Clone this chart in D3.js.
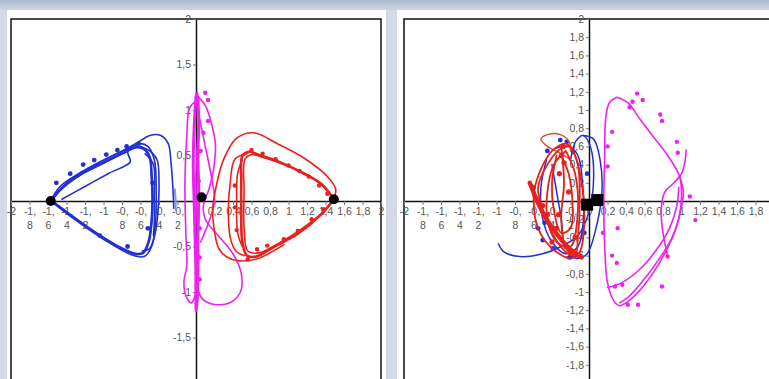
<!DOCTYPE html>
<html>
<head>
<meta charset="utf-8">
<script src="https://cdn.jsdelivr.net/npm/d3@7"></script>
<style>
  html, body { margin: 0; padding: 0; background: #d3d9e5; }
  svg { display: block; }
  .tick text { font-family: "Liberation Sans", Arial, sans-serif; font-size: 10.5px; fill: #555; }
</style>
</head>
<body>
<script>
// ---- axis ticks ----
const xTickValues = [-2,-1.8,-1.6,-1.4,-1.2,-1,-0.8,-0.6,-0.4,-0.2,0,0.2,0.4,0.6,0.8,1,1.2,1.4,1.6,1.8,2];
const xTickLabels = ["-2","-1,8","-1,6","-1,4","-1,2","-1","-0,8","-0,6","-0,4","-0,2","0","0,2","0,4","0,6","0,8","1","1,2","1,4","1,6","1,8","2"];
const leftYTickValues = [-2,-1.5,-1,-0.5,0.5,1,1.5,2];
const leftYTickLabels = ["-2","-1,5","-1","-0,5","0,5","1","1,5","2"];
const rightYTickValues = [-2,-1.8,-1.6,-1.4,-1.2,-1,-0.8,-0.6,-0.4,-0.2,0.2,0.4,0.6,0.8,1,1.2,1.4,1.6,1.8,2];
const rightYTickLabels = ["-2","-1,8","-1,6","-1,4","-1,2","-1","-0,8","-0,6","-0,4","-0,2","0,2","0,4","0,6","0,8","1","1,2","1,4","1,6","1,8","2"];

// ---- left panel trajectories ----
const leftBlueTraces = [
  [[-1.57,0],[-1.45,0.14],[-1.25,0.29],[-1.0,0.42],[-0.8,0.52],[-0.64,0.59],[-0.56,0.57],[-0.5,0.48],[-0.48,0.28],[-0.47,0.03],[-0.48,-0.22],[-0.51,-0.44],[-0.57,-0.57],[-0.66,-0.58],[-0.86,-0.49],[-1.1,-0.34],[-1.35,-0.16],[-1.52,-0.03],[-1.57,0]],
  [[-1.57,0],[-1.47,0.16],[-1.22,0.33],[-0.96,0.47],[-0.72,0.58],[-0.6,0.63],[-0.52,0.6],[-0.45,0.45],[-0.43,0.1],[-0.44,-0.26],[-0.48,-0.5],[-0.56,-0.61],[-0.7,-0.59],[-1.0,-0.42],[-1.3,-0.21],[-1.57,0]],
  [[-1.57,0],[-1.4,0.2],[-1.1,0.39],[-0.8,0.55],[-0.62,0.65],[-0.5,0.72],[-0.38,0.72],[-0.3,0.63],[-0.27,0.42],[-0.25,0.15],[-0.24,-0.08]],
  [[-0.75,0.58],[-0.73,0.5],[-0.71,0.43],[-0.95,0.3],[-1.2,0.16],[-1.45,0.02]],
  [[-0.6,0.6],[-0.5,0.55],[-0.42,0.45],[-0.4,0.2],[-0.41,-0.1],[-0.44,-0.35],[-0.5,-0.52],[-0.58,-0.55]],
  [[-0.55,0.52],[-0.46,0.4],[-0.45,0.1],[-0.45,-0.2],[-0.46,-0.38]]
];
const leftBlueFaint = [[-0.23,0.13],[-0.22,0.0],[-0.22,-0.1]];
const leftBlueDots = [[-1.51,0.2],[-1.36,0.3],[-1.22,0.4],[-1.1,0.45],[-0.97,0.51],[-0.85,0.56],[-0.75,0.6],[-0.62,0.63],[-1.04,-0.38],[-0.74,-0.5],[-0.52,-0.3],[-0.47,0.2]];

const leftMagentaTraces = [
  [[0.0,1.15],[-0.02,0.8],[-0.03,0.4],[-0.02,0.0],[-0.01,-0.4],[0.0,-0.8],[0.01,-1.15]],
  [[0.03,1.12],[0.02,0.7],[0.0,0.3],[0.01,-0.2],[0.03,-0.6],[0.02,-1.1]],
  [[0.01,1.18],[0.03,0.9],[0.02,0.5],[0.03,0.1],[0.02,-0.4],[0.0,-0.9],[0.0,-1.2]],
  [[0.0,1.1],[-0.07,1.02],[-0.1,0.7],[-0.12,0.2],[-0.11,-0.35],[-0.1,-0.72],[-0.13,-0.88],[-0.11,-1.04],[-0.05,-1.12],[0.0,-1.0]],
  [[0.02,1.15],[0.1,1.05],[0.16,0.88],[0.21,0.62],[0.19,0.35],[0.14,0.13],[0.08,-0.05],[0.1,-0.2],[0.24,-0.38],[0.4,-0.58],[0.49,-0.8],[0.48,-1.0],[0.36,-1.12],[0.16,-1.13],[0.05,-1.05],[0.02,-0.9]],
  [[0.03,0.95],[0.1,0.6],[0.17,0.25],[0.2,0.0],[0.15,-0.2],[0.05,-0.45]]
];
const leftMagentaDots = [[0.1,1.19],[0.13,1.11],[0.13,0.88],[0.08,0.75],[0.05,0.55],[0.03,0.22],[0.04,-0.3],[0.04,-0.62],[0.04,-0.86],[0.02,-1.02]];

const leftRedTraces = [
  [[1.49,0.02],[1.35,0.19],[1.15,0.31],[0.9,0.43],[0.7,0.5],[0.57,0.54],[0.5,0.49],[0.49,0.25],[0.49,-0.1],[0.5,-0.44],[0.55,-0.6],[0.65,-0.61],[0.85,-0.5],[1.1,-0.36],[1.35,-0.15],[1.49,0.02]],
  [[1.49,0.02],[1.38,0.17],[1.2,0.29],[0.95,0.4],[0.72,0.48],[0.6,0.51],[0.53,0.46],[0.52,0.1],[0.52,-0.3],[0.56,-0.55],[0.68,-0.57],[0.9,-0.46],[1.15,-0.3],[1.4,-0.1],[1.49,0.02]],
  [[1.49,0.02],[1.51,0.13],[1.42,0.27],[1.17,0.47],[0.88,0.63],[0.62,0.75],[0.44,0.69],[0.3,0.46],[0.22,0.17],[0.18,-0.1],[0.2,-0.33],[0.25,-0.53],[0.36,-0.63],[0.52,-0.66],[0.7,-0.62],[0.95,-0.48]],
  [[0.55,0.52],[0.42,0.46],[0.37,0.2],[0.35,-0.1],[0.37,-0.4],[0.43,-0.55],[0.52,-0.6]],
  [[0.5,0.45],[0.45,0.3],[0.44,0.0],[0.45,-0.35],[0.5,-0.5]]
];
const leftRedDots = [[0.6,0.56],[0.72,0.52],[0.86,0.46],[1.0,0.39],[1.12,0.33],[1.22,0.27],[1.33,0.17],[1.42,0.08],[0.42,0.17],[0.42,-0.07],[0.44,-0.32],[0.56,-0.64],[0.66,-0.53],[0.77,-0.49],[0.95,-0.42],[1.1,-0.33],[1.25,-0.2],[1.38,-0.09]];
const leftEquilibria = [[-1.57,0.0],[0.06,0.04],[1.49,0.02]];

// ---- right panel trajectories ----
const rightMagentaTraces = [
  [[0.3,1.14],[0.22,1.08],[0.18,0.9],[0.17,0.5],[0.16,0.0],[0.17,-0.5],[0.2,-0.9],[0.27,-1.1],[0.33,-1.15],[0.45,-1.08],[0.6,-0.92],[0.75,-0.7],[0.88,-0.45],[0.97,-0.2],[1.0,0.05],[0.98,0.27],[0.85,0.5],[0.7,0.7],[0.55,0.9],[0.42,1.08],[0.3,1.14]],
  [[0.98,0.27],[1.02,0.1],[0.98,-0.15],[0.9,-0.4],[0.75,-0.65],[0.58,-0.88],[0.43,-1.05],[0.33,-1.12]],
  [[0.85,-0.6],[0.8,-0.35],[0.78,-0.1],[0.82,0.1],[0.92,0.2],[1.0,0.3],[1.04,0.45],[1.05,0.56]],
  [[0.2,-0.95],[0.35,-0.9],[0.55,-0.75],[0.72,-0.55],[0.87,-0.3],[0.95,-0.05],[0.97,0.15]]
];
const rightMagentaDots = [[0.44,1.03],[0.52,1.18],[0.58,1.11],[0.47,1.09],[0.77,0.95],[0.79,0.88],[0.95,0.65],[0.96,0.53],[0.25,0.76],[0.2,0.6],[0.2,0.38],[1.09,0.05],[1.15,-0.21],[0.15,-0.35],[0.31,-0.3],[0.25,-0.6],[0.3,-0.68],[0.28,-0.94],[0.36,-0.92],[0.42,-1.14],[0.53,-1.14],[0.79,-0.94],[0.85,-0.61]];

const rightBlueTraces = [
  [[-0.98,-0.47],[-0.92,-0.56],[-0.75,-0.61],[-0.5,-0.58],[-0.3,-0.5],[-0.12,-0.38],[0.0,-0.12],[0.05,0.25],[0.02,0.58],[-0.06,0.72],[-0.14,0.66],[-0.2,0.45]],
  [[-0.06,0.72],[0.05,0.68],[0.12,0.45],[0.14,0.1],[0.08,-0.28],[-0.02,-0.58],[-0.12,-0.63],[-0.2,-0.6]],
  [[-0.46,0.45],[-0.52,0.15],[-0.5,-0.2],[-0.4,-0.45],[-0.25,-0.58],[-0.12,-0.5],[-0.06,-0.2],[-0.07,0.2],[-0.12,0.5],[-0.22,0.6],[-0.36,0.58]],
  [[-0.4,0.4],[-0.35,0.1],[-0.3,-0.2],[-0.28,-0.45]]
];
const rightBlueDots = [[-0.39,-0.52],[-0.5,-0.43],[-0.48,-0.24],[-0.24,0.65],[-0.31,0.67],[-0.17,0.54],[-0.45,0.55],[-0.21,-0.62],[-0.1,-0.6],[-0.55,-0.3],[-0.02,0.3],[-0.05,-0.35]];

const rightRedTraces = [
  [[-0.2,0.6],[-0.12,0.4],[-0.1,0.0],[-0.12,-0.4],[-0.15,-0.6],[-0.25,-0.56],[-0.4,-0.35],[-0.5,-0.1],[-0.55,0.15],[-0.45,0.4],[-0.3,0.58],[-0.2,0.6]],
  [[-0.25,0.55],[-0.15,0.3],[-0.12,-0.1],[-0.2,-0.5],[-0.35,-0.45],[-0.45,-0.2],[-0.45,0.1],[-0.38,0.4],[-0.25,0.55]],
  [[-0.3,0.6],[-0.27,0.2],[-0.3,-0.2],[-0.25,-0.52],[-0.15,-0.6]],
  [[-0.6,0.1],[-0.58,-0.2],[-0.5,-0.4],[-0.35,-0.56],[-0.2,-0.63],[-0.1,-0.56],[-0.05,-0.2],[-0.08,0.2],[-0.15,0.5],[-0.25,0.63],[-0.4,0.55],[-0.52,0.35],[-0.6,0.1]],
  [[-0.35,0.5],[-0.4,0.2],[-0.38,-0.1],[-0.3,-0.35],[-0.2,-0.3],[-0.18,0.0],[-0.22,0.3],[-0.3,0.5]]
];
const rightRedBand = [[-0.64,0.2],[-0.56,0.0],[-0.46,-0.2],[-0.32,-0.4],[-0.18,-0.55],[-0.08,-0.62]];
const rightOrangeLoop = [[-0.2,0.55],[-0.22,0.66],[-0.31,0.73],[-0.45,0.73],[-0.52,0.68],[-0.45,0.6],[-0.3,0.52],[-0.2,0.45]];
const rightRedDots = [[-0.3,0.5],[-0.27,0.42],[-0.32,0.3],[-0.35,-0.3],[-0.4,-0.45],[-0.25,-0.5],[-0.6,0.15],[-0.5,-0.05],[-0.45,-0.15],[-0.2,-0.55],[-0.15,-0.4],[-0.22,0.1],[-0.28,0.6],[-0.33,-0.15]];
const rightEquilibria = [[-0.02,-0.04],[0.09,0.01]];

// ---- colours ----
const BLUE = "#2230d0", RED = "#e8211c", MAGENTA = "#ee22ee", ORANGE = "#d8502a", FAINT = "#8a94e6";

const W = 769, H = 379;
const svg = d3.select("body").append("svg").attr("width", W).attr("height", H);

const defs = svg.append("defs");
const grad = defs.append("linearGradient").attr("id", "topband").attr("x1", 0).attr("y1", 0).attr("x2", 0).attr("y2", 1);
grad.append("stop").attr("offset", 0).attr("stop-color", "#aeb9cd");
grad.append("stop").attr("offset", 1).attr("stop-color", "#ccd3e0");

svg.append("rect").attr("width", W).attr("height", H).attr("fill", "#d3d9e5");
svg.append("rect").attr("width", W).attr("height", 10).attr("fill", "url(#topband)");

function drawPanel(opt) {
  const g = svg.append("g");
  // white sheet
  g.append("rect").attr("x", opt.sheet[0]).attr("y", 10).attr("width", opt.sheet[1] - opt.sheet[0]).attr("height", H - 10).attr("fill", "#ffffff");

  const x = d3.scaleLinear().domain([-2, 2]).range([opt.left, opt.left + 370]);
  const y = d3.scaleLinear().domain([-2, 2]).range([383, 19]);

  // plot frame
  g.append("rect").attr("x", opt.left).attr("y", 19).attr("width", 370).attr("height", 364)
    .attr("fill", "none").attr("stroke", "#111").attr("stroke-width", 1.5);

  // x axis through the origin
  const xa = g.append("g").attr("transform", `translate(0,${y(0)})`)
    .call(d3.axisBottom(x).tickValues(xTickValues).tickFormat((d, i) => xTickLabels[i]).tickSize(4).tickSizeOuter(0).tickPadding(3));
  xa.select(".domain").attr("stroke", "#111").attr("stroke-width", 1.5);
  xa.selectAll(".tick line").attr("stroke", "#777");
  xa.selectAll(".tick text").each(function(d, i) {
    const t = d3.select(this);
    const label = xTickLabels[i];
    if (label.startsWith("-") && label.includes(",")) {
      const parts = label.split(",");
      t.text(null);
      t.append("tspan").attr("x", 0).text(parts[0] + ",");
      t.append("tspan").attr("x", 0).attr("dy", "1.25em").text(parts[1]);
    }
  });

  // y axis through the origin
  const ya = g.append("g").attr("transform", `translate(${x(0)},0)`)
    .call(d3.axisLeft(y).tickValues(opt.yTicks).tickFormat((d, i) => opt.yLabels[i]).tickSize(3).tickSizeOuter(0).tickPadding(2));
  ya.select(".domain").attr("stroke", "#111").attr("stroke-width", 1.5);
  ya.selectAll(".tick line").attr("stroke", "#777");

  const line = d3.line().x(d => x(d[0])).y(d => y(d[1])).curve(d3.curveCatmullRom.alpha(0.5));
  const plot = g.append("g");

  function traces(list, color, width) {
    plot.selectAll(null).data(list).enter().append("path")
      .attr("d", line).attr("fill", "none").attr("stroke", color)
      .attr("stroke-width", width).attr("stroke-linejoin", "round").attr("stroke-linecap", "round");
  }
  function dots(list, color, r) {
    plot.selectAll(null).data(list).enter().append("circle")
      .attr("cx", d => x(d[0])).attr("cy", d => y(d[1])).attr("r", r).attr("fill", color);
  }
  opt.draw(traces, dots, x, y, plot, line);
}

// left panel
drawPanel({
  sheet: [7, 386], left: 11, yTicks: leftYTickValues, yLabels: leftYTickLabels,
  draw: (traces, dots, x, y, plot) => {
    traces(leftMagentaTraces, MAGENTA, 1.6);
    traces([leftMagentaTraces[0], leftMagentaTraces[2]], MAGENTA, 3);
    dots(leftMagentaDots, MAGENTA, 2.2);
    traces(leftBlueTraces, BLUE, 1.6);
    traces([leftBlueTraces[0]], BLUE, 2.6);
    traces([leftBlueFaint], FAINT, 2);
    dots(leftBlueDots, BLUE, 2.4);
    traces(leftRedTraces, RED, 1.6);
    traces([leftRedTraces[0]], RED, 2.6);
    dots(leftRedDots, RED, 2.2);
    dots(leftEquilibria, "#000", 5);
  }
});

// right panel
drawPanel({
  sheet: [397, 769], left: 404, yTicks: rightYTickValues, yLabels: rightYTickLabels,
  draw: (traces, dots, x, y, plot) => {
    traces(rightMagentaTraces, MAGENTA, 1.6);
    dots(rightMagentaDots, MAGENTA, 2.2);
    traces(rightBlueTraces, BLUE, 1.5);
    dots(rightBlueDots, BLUE, 2.4);
    traces([rightOrangeLoop], ORANGE, 1.4);
    traces(rightRedTraces, RED, 1.8);
    traces([rightRedBand], RED, 4.5);
    dots(rightRedDots, RED, 2.6);
    plot.selectAll(null).data(rightEquilibria).enter().append("rect")
      .attr("x", d => x(d[0]) - 6).attr("y", d => y(d[1]) - 6)
      .attr("width", 12).attr("height", 12).attr("fill", "#000");
  }
});
</script>
</body>
</html>
